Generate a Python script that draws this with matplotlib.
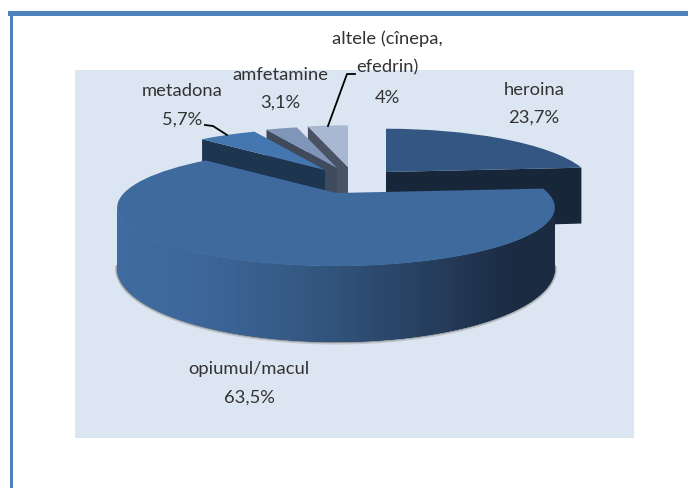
import numpy as np
import matplotlib
matplotlib.use("Agg")
import matplotlib.pyplot as plt
from matplotlib.patches import Rectangle
from matplotlib.transforms import Transform
from matplotlib.colors import to_rgb

categories = ["heroina", "opiumul/macul", "metadona", "amfetamine", "altele (cînepa,\nefedrin)"]
values = [23.7, 63.5, 5.7, 3.1, 4.0]
value_labels = ["23,7%", "63,5%", "5,7%", "3,1%", "4%"]
top_colors = ["#335682", "#3f6a9e", "#4476b0", "#7f96ba", "#a9b8d2"]
cut_colors = ["#18263a", "#1a2b42", "#1e3550", "#3f4a5c", "#4a5364"]

plt.rcParams["font.family"] = ["Lato", "DejaVu Sans"]

K = 0.248
DEPTH = 57.0
apex = [(386, 172), (336, 193), (325, 170), (337, 168), (348, 167)]
radius = [200, 212, 200, 200, 200]
minor = [54, 55, 52, 52, 52]


class Persp(Transform):
    input_dims = output_dims = 2

    def __init__(self, cx, cy, r, b):
        super().__init__()
        self.p = (cx, cy, r, b)

    def transform_non_affine(self, v):
        v = np.asarray(v, float)
        cx, cy, r, b = self.p
        d = 1 + K * v[:, 1]
        return np.column_stack([cx + r * v[:, 0] / d, cy - b * v[:, 1] / d])


fig = plt.figure(figsize=(6.88, 4.88), dpi=100)
ax = fig.add_axes([0, 0, 1, 1])
wedges, _ = ax.pie(values, startangle=90, counterclock=False, colors=top_colors,
                   wedgeprops={"linewidth": 0})
ax.set_aspect("auto")
ax.set_xlim(0, 688)
ax.set_ylim(488, 0)
ax.axis("off")

ax.add_patch(Rectangle((75, 70), 559, 368, fc="#dce6f2", ec="none", zorder=0))
ax.add_patch(Rectangle((8, 11), 680, 4.5, fc="#4f81bd", ec="none", zorder=0.5))
ax.add_patch(Rectangle((9.5, 11), 3.5, 477, fc="#4f81bd", ec="none", zorder=0.5))

edges = np.cumsum([0] + values) / sum(values) * 2 * np.pi
z_base = [6, 12, 5, 4, 3]


def project(i, theta):
    """theta measured clockwise from north, unit disc -> pixels."""
    pts = np.column_stack([np.sin(theta), np.cos(theta)])
    xy = Persp(apex[i][0], apex[i][1], radius[i], minor[i]).transform_non_affine(pts)
    return xy, DEPTH / (1 + K * pts[:, 1])


for i, w in enumerate(wedges):
    w.set_transform(Persp(apex[i][0], apex[i][1], radius[i], minor[i]) + ax.transData)
    w.set_clip_on(False)
    w.set_zorder(z_base[i] + 0.5)
    if i == 1:
        continue
    # visible radial cut face of each slice
    th = np.array([edges[i + 1] if i == 0 else edges[i]])
    xy, t = project(i, th)
    ax.fill([apex[i][0], xy[0, 0], xy[0, 0], apex[i][0]],
            [apex[i][1], xy[0, 1], xy[0, 1] + t[0], apex[i][1] + DEPTH],
            color=cut_colors[i], lw=0, zorder=z_base[i])

# rim of the large slice, shaded left to right (only the side facing the viewer)
big = 1
grad_x = [117, 200, 335, 450, 510, 553]
grad_c = np.array([to_rgb(c) for c in ["#3f6b9f", "#3d679a", "#31537a", "#243a58", "#1a2b42", "#1a2b42"]])
theta = np.linspace(edges[big], edges[big + 1], 400)
theta = theta[np.cos(theta) < -0.22]
xy, t = project(big, theta)
step = 4
for j in range(len(theta) - 1):
    k = min(j + step, len(theta) - 1)
    mx = 0.5 * (xy[j, 0] + xy[min(j + 1, k), 0])
    col = [np.interp(mx, grad_x, grad_c[:, c]) for c in range(3)]
    ax.fill([xy[j, 0], xy[k, 0], xy[k, 0], xy[j, 0]],
            [xy[j, 1], xy[k, 1], xy[k, 1] + t[k], xy[j, 1] + t[j]],
            color=col, lw=0, zorder=z_base[big])

# soft shadow under the rim
ax.plot(xy[:, 0], xy[:, 1] + t + 0.5, color="#777777", lw=3, alpha=0.3,
        zorder=z_base[big] - 0.5, solid_capstyle="round")
ax.plot(xy[:, 0], xy[:, 1] + t, color="#666666", lw=1.6, alpha=0.5,
        zorder=z_base[big] - 0.4, solid_capstyle="round")

# labels
txt = dict(ha="center", va="center", fontsize=13.2, color="#333333", zorder=20)
ax.text(534, 90, categories[0], **txt)
ax.text(534, 118, value_labels[0], **txt)
ax.text(249, 369, categories[1], **txt)
ax.text(249, 398, value_labels[1], **txt)
ax.text(182, 91, categories[2], **txt)
ax.text(182, 120, value_labels[2], **txt)
ax.text(280, 75, categories[3], **txt)
ax.text(280, 103, value_labels[3], **txt)
first, second = categories[4].split("\n")
ax.text(387, 39, first, **txt)
ax.text(387, 67, second, **txt)
ax.text(387, 98, value_labels[4], **txt)

# leader lines
ax.plot([205, 213, 227], [125, 126, 135], color="black", lw=1.3, zorder=19)
ax.plot([355, 347, 328], [74, 74, 126], color="black", lw=1.3, zorder=19)

fig.savefig("out.png", dpi=100, facecolor="white")
